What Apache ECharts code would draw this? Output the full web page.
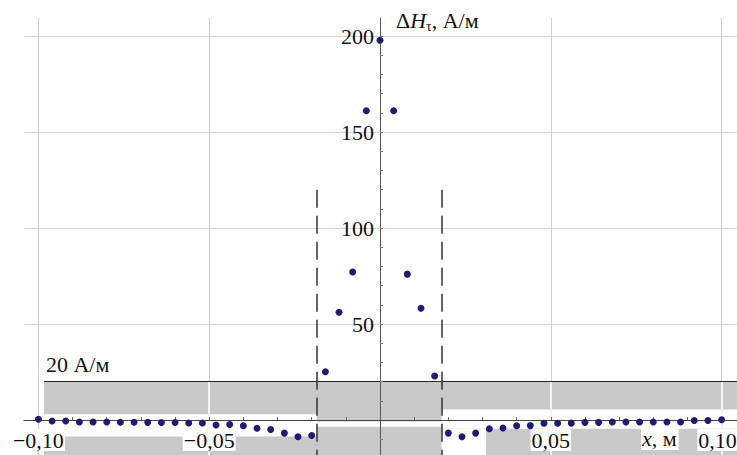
<!DOCTYPE html>
<html>
<head>
<meta charset="utf-8">
<script src="https://cdn.jsdelivr.net/npm/echarts@6/dist/echarts.min.js"></script>
<style>
html,body{margin:0;padding:0;background:#fff;}
#chart{width:737px;height:455px;}
</style>
</head>
<body>
<div id="chart"></div>
<script>
// ---- data ----
var xPositions = [
  -0.100,-0.096,-0.092,-0.088,-0.084,-0.080,-0.076,-0.072,-0.068,-0.064,
  -0.060,-0.056,-0.052,-0.048,-0.044,-0.040,-0.036,-0.032,-0.028,-0.024,
  -0.020,-0.016,-0.012,-0.008,-0.004, 0.000, 0.004, 0.008, 0.012, 0.016,
   0.020, 0.024, 0.028, 0.032, 0.036, 0.040, 0.044, 0.048, 0.052, 0.056,
   0.060, 0.064, 0.068, 0.072, 0.076, 0.080, 0.084, 0.088, 0.092, 0.096,
   0.100
];
var deltaH = [
   0.4, -0.5, -0.5, -1.0, -1.0, -1.0, -1.1, -1.1, -1.2, -1.3,
  -1.3, -1.5, -1.5, -2.6, -2.3, -3.0, -4.3, -4.9, -6.8, -8.7,
  -8.0, 25.2, 56.1, 77.1, 161.1, 197.8, 161.1, 76.0, 58.2, 22.9,
  -6.8, -8.7, -6.8, -4.5, -4.1, -3.0, -2.9, -1.7, -1.7, -1.6,
  -1.2, -1.2, -1.0, -1.0, -1.0, -1.0, -1.0, -1.0, -0.2, -0.2,
   0.2
];
var xTickLabels = [-0.10, -0.05, 0.05, 0.10];
var yTickLabels = [50, 100, 150, 200];
var xMinorTicks = [-0.10,-0.09,-0.08,-0.07,-0.06,-0.05,-0.04,-0.03,-0.02,-0.01,0.01,0.02,0.03,0.04,0.05,0.06,0.07,0.08,0.09,0.10];
var yMinorTicks = [-10,10,20,30,40,50,60,70,80,90,100,110,120,130,140,150,160,170,180,190,200];
var thresholdValue = 20;
var zoneBounds = [-0.0185, 0.018];
var zoneTop = 120;

// ---- layout ----
var X_MIN = -0.10422, X_MAX = 0.10451;
var Y_MIN = -18.2, Y_MAX = 209.4;
var BAND_LEFT = -0.0984;
var FONT = 'Liberation Serif';
var GRID = {left: 24, right: 0, top: 18, bottom: 0};
var W = 737, H = 455;
// pixel offsets so that the axes cross at the data origin
var plotW = W - GRID.left - GRID.right, plotH = H - GRID.top - GRID.bottom;
var yAxisOffset = -((0 - X_MIN) / (X_MAX - X_MIN)) * plotW;
var xAxisOffset = -((0 - Y_MIN) / (Y_MAX - Y_MIN)) * plotH;

var chart = echarts.init(document.getElementById('chart'), null, {renderer: 'svg'});

function fmt(v) {
  var s = Math.abs(v).toFixed(2).replace('.', ',');
  var t = (v < 0 ? '\u2212' : '') + s;
  return v > 0.09 ? '{edge|' + t + '}' : '{n|' + t + '}';
}

var points = xPositions.map(function (x, i) { return [x, deltaH[i]]; });

var gridLineData = xTickLabels.map(function (v) { return {xAxis: v}; })
  .concat(yTickLabels.map(function (v) { return {yAxis: v}; }));

var whiteInBand = [-0.05, 0.05, 0.10].map(function (v) {
  return [{coord: [v, thresholdValue]}, {coord: [v, Y_MIN]}];
});

var option = {
  animation: false,
  backgroundColor: '#fff',
  grid: {left: GRID.left, right: GRID.right, top: GRID.top, bottom: GRID.bottom, containLabel: false, outerBoundsMode: 'none'},
  xAxis: {
    type: 'value', min: X_MIN, max: X_MAX, z: 5, position: 'bottom', offset: xAxisOffset,
    axisLine: {onZero: false, lineStyle: {color: '#444', width: 1}},
    splitLine: {show: false},
    axisTick: {show: true, inside: true, length: 3, customValues: xMinorTicks, lineStyle: {color: '#666'}},
    axisLabel: {
      customValues: xTickLabels, formatter: fmt, margin: 9, hideOverlap: false,
      fontFamily: FONT, fontSize: 22, color: '#111',
      backgroundColor: '#fff', padding: [0, 1, 0, 1],
      rich: {
        n: {fontFamily: FONT, fontSize: 22, color: '#111'},
        edge: {fontFamily: FONT, fontSize: 22, color: '#111', padding: [0, 8, 0, 0]}
      }
    }
  },
  yAxis: {
    type: 'value', min: Y_MIN, max: Y_MAX, z: 5, position: 'left', offset: yAxisOffset,
    axisLine: {show: true, onZero: false, lineStyle: {color: '#555', width: 1}},
    splitLine: {show: false},
    axisTick: {show: true, inside: true, length: 3, customValues: yMinorTicks, lineStyle: {color: '#777'}},
    axisLabel: {
      customValues: yTickLabels, margin: 6, hideOverlap: false,
      fontFamily: FONT, fontSize: 22, color: '#111'
    }
  },
  series: [
    {
      name: 'grid', type: 'line', data: [], z: 0, silent: true,
      markLine: {
        silent: true, symbol: 'none', label: {show: false},
        lineStyle: {color: '#d2d2d2', width: 1, type: 'solid'},
        data: gridLineData
      }
    },
    {
      name: 'band', type: 'line', data: [], z: 1, silent: true,
      markArea: {
        silent: true,
        itemStyle: {color: '#c9c9c9'},
        data: [[{coord: [BAND_LEFT, thresholdValue]}, {coord: [X_MAX, Y_MIN]}]]
      }
    },
    {
      name: 'bandGaps', type: 'line', data: [], z: 2, silent: true,
      markArea: {
        silent: true,
        itemStyle: {color: '#ffffff'},
        data: [
          [{coord: [BAND_LEFT, 3]}, {coord: [zoneBounds[0], -8.5]}],
          [{coord: [zoneBounds[0], -0.8]}, {coord: [zoneBounds[1], -3.5]}],
          [{coord: [zoneBounds[1], 5.5]}, {coord: [X_MAX, -4.5]}],
          [{coord: [zoneBounds[1], -4.5]}, {coord: [0.031, Y_MIN]}]
        ]
      },
      markLine: {
        silent: true, symbol: 'none', label: {show: false},
        lineStyle: {color: '#f4f4f4', width: 2, type: 'solid'},
        data: whiteInBand
      }
    },
    {
      name: 'marks', type: 'line', data: [], z: 3, silent: true,
      markLine: {
        silent: true, symbol: 'none',
        data: [
          [{coord: [BAND_LEFT, thresholdValue],
            label: {show: true, position: 'insideStartTop', formatter: '20 А/м', distance: [2, 6],
                    fontFamily: FONT, fontSize: 22, color: '#111'},
            lineStyle: {color: '#222', width: 1.2, type: 'solid'}},
           {coord: [X_MAX, thresholdValue]}],
          [{coord: [zoneBounds[0], zoneTop], label: {show: false},
            lineStyle: {color: '#333', width: 1.5, type: [18, 8]}},
           {coord: [zoneBounds[0], Y_MIN]}],
          [{coord: [zoneBounds[1], zoneTop], label: {show: false},
            lineStyle: {color: '#333', width: 1.5, type: [18, 8]}},
           {coord: [zoneBounds[1], Y_MIN]}]
        ]
      }
    },
    {
      name: 'ΔHτ', type: 'scatter', z: 10,
      symbol: 'circle', symbolSize: 7,
      itemStyle: {color: '#1f1b6f', opacity: 1},
      data: points
    }
  ],
  graphic: [
    {
      type: 'text', left: 396, top: 7, z: 20,
      style: {
        text: '{a|Δ}{i|H}{s|τ}{a|, А/м}',
        rich: {
          a: {fontFamily: FONT, fontSize: 22, fill: '#111', lineHeight: 26},
          i: {fontFamily: FONT, fontSize: 22, fontStyle: 'italic', fill: '#111', lineHeight: 26},
          s: {fontFamily: FONT, fontSize: 14, fill: '#111', lineHeight: 26, padding: [12, 0, 0, 0]}
        }
      }
    },
    {
      type: 'text', left: 641, top: 426, z: 20,
      style: {
        text: '{i|x}{a|, м}',
        backgroundColor: '#fff',
        padding: [0, 2, 0, 1],
        rich: {
          a: {fontFamily: FONT, fontSize: 22, fill: '#111', lineHeight: 24},
          i: {fontFamily: FONT, fontSize: 22, fontStyle: 'italic', fill: '#111', lineHeight: 24}
        }
      }
    }
  ]
};
chart.setOption(option);
</script>
</body>
</html>
